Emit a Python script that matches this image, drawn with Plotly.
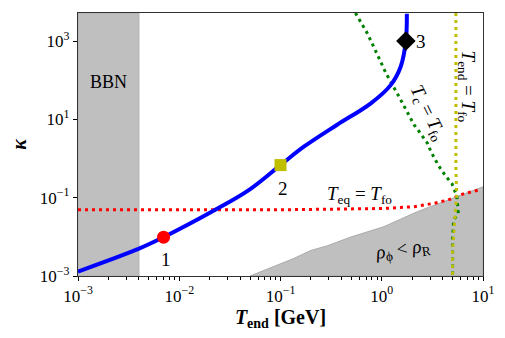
# kappa vs T_end parameter space

import numpy as np
import plotly.graph_objects as go

# blue trajectory
blue_x = [1e-3, 0.004, 0.0070, 0.0227, 0.049, 0.100, 0.17, 0.36, 0.78, 1.23, 1.54, 1.73, 1.77]
blue_y = [0.0013, 0.0050, 0.0098, 0.049, 0.158, 0.68, 2.0, 7.2, 25.7, 76, 224, 1000, 5000]

# benchmark points 1, 2, 3
pts_x = [0.0070, 0.100, 1.73]
pts_y = [0.0098, 0.68, 1000]

# T_eq = T_fo (red dotted)
red_x = [1e-3, 0.01, 0.1, 1.05, 2.1, 3.3, 4.5, 6.3, 9.2]
red_y = [0.049, 0.049, 0.049, 0.053, 0.059, 0.072, 0.087, 0.123, 0.158]

# T_c = T_fo (green dotted)
green_x = [0.55, 0.72, 0.91, 1.10, 1.48, 2.09, 2.34, 2.83, 3.06, 3.61, 4.30, 4.93, 5.53, 5.70, 5.13, 5.01, 5.01]
green_y = [5200, 1580, 437, 151, 38, 7.2, 4.9, 2.45, 1.5, 0.68, 0.35, 0.23, 0.107, 0.040, 0.027, 0.010, 0.001]

# T_end = T_fo (yellow dotted)
yellow_x = [5.4, 5.4, 5.5, 5.4, 5.2, 5.0, 5.0]
yellow_y = [5200, 0.5, 0.12, 0.05, 0.018, 0.0045, 0.001]

# rho_phi < rho_R boundary (grey)
rho_x = [0.050, 0.108, 0.135, 0.20, 0.29, 0.49, 1.05, 2.25, 4.82, 10.0]
rho_y = [0.001, 0.0023, 0.0028, 0.0045, 0.0059, 0.0098, 0.0182, 0.044, 0.095, 0.19]

# BBN excluded
bbn_x = [1e-3, 0.004]

y_ticks = [1e-3, 1e-1, 1e1, 1e3]
y_ticktext = ["10<sup>−3</sup>", "10<sup>−1</sup>", "10<sup>1</sup>", "10<sup>3</sup>"]
x_ticks = [1e-3, 1e-2, 1e-1, 1e0, 1e1]
x_ticktext = ["10<sup>−3</sup>", "10<sup>−2</sup>", "10<sup>−1</sup>", "10<sup>0</sup>", "10<sup>1</sup>"]
x_minor = [m * d for d in [1e-3, 1e-2, 1e-1, 1e0] for m in range(2, 10)]

YTOP = 5200
grey = "#bfbfbf"
FONT = "Liberation Serif"

fig = go.Figure()

fig.add_trace(go.Scatter(x=[bbn_x[0], bbn_x[1], bbn_x[1], bbn_x[0], bbn_x[0]],
                         y=[1e-3, 1e-3, YTOP, YTOP, 1e-3],
                         fill="toself", fillcolor=grey, mode="lines",
                         line=dict(color="#b0b0b0", width=1), hoverinfo="skip"))

fig.add_trace(go.Scatter(x=rho_x + [10.0, rho_x[0]], y=rho_y + [1e-3, 1e-3],
                         fill="toself", fillcolor=grey, mode="lines",
                         line=dict(color="#aaaaaa", width=1), hoverinfo="skip"))

fig.add_trace(go.Scatter(x=red_x, y=red_y, mode="lines",
                         line=dict(color="red", width=3, dash="3px,4px")))
fig.add_trace(go.Scatter(x=green_x, y=green_y, mode="lines",
                         line=dict(color="green", width=3, dash="3px,4px")))
fig.add_trace(go.Scatter(x=yellow_x, y=yellow_y, mode="lines",
                         line=dict(color="#bfbf00", width=3, dash="3px,4px")))

fig.add_trace(go.Scatter(x=blue_x, y=blue_y, mode="lines", line_shape="spline",
                         line=dict(color="blue", width=4)))

fig.add_trace(go.Scatter(x=pts_x, y=pts_y, mode="markers",
                         marker=dict(symbol=["circle", "square", "diamond"],
                                     color=["red", "#bfbf00", "black"], opacity=1,
                                     size=[13, 12, 15], line=dict(width=0))))

def label(x, y, text, size=19, angle=0):
    fig.add_annotation(x=np.log10(x), y=np.log10(y), text=text, showarrow=False,
                       textangle=angle, font=dict(family=FONT, size=size, color="black"))

label(0.002, 91, "BBN", size=18)
label(0.0074, 0.0027, "1")
label(0.105, 0.174, "2")
label(2.43, 950, "3")
label(0.60, 0.118, "<i>T</i><sub>eq</sub> = <i>T</i><sub>fo</sub>")
label(1.6, 0.0045, "<i>ρ</i><sub>ϕ</sub> &lt; <i>ρ</i><sub>R</sub>", angle=-8)
label(2.83, 14.3, "<i>T</i><sub>c</sub> = <i>T</i><sub>fo</sub>", angle=64)
label(6.9, 70, "<i>T</i><sub>end</sub> = <i>T</i><sub>fo</sub>", angle=90)

# page body has an 8px margin, so the figure is drawn 8px in from the corner
fig.update_layout(
    width=497, height=330,
    margin=dict(l=70, r=22, t=5, b=62),
    plot_bgcolor="white", paper_bgcolor="white",
    showlegend=False,
    font=dict(family=FONT, size=17, color="black"),
)
fig.update_xaxes(type="log", range=[-3, 1], tickvals=x_ticks, ticktext=x_ticktext,
                 ticks="outside", ticklen=4, tickcolor="black",
                 minor=dict(tickvals=x_minor, ticks="outside", ticklen=2.5, tickcolor="black", showgrid=False),
                 showgrid=False, zeroline=False, showline=True, linecolor="#333", linewidth=1.3,
                 mirror=True, tickfont=dict(size=17),
                 title=dict(text="<b><i>T</i><sub>end</sub> [GeV]</b>", font=dict(size=20), standoff=4))
fig.update_yaxes(type="log", range=[-3, np.log10(YTOP)], tickvals=y_ticks, ticktext=y_ticktext,
                 ticks="outside", ticklen=4, tickcolor="black",
                 showgrid=False, zeroline=False, showline=True, linecolor="#333", linewidth=1.3,
                 mirror=True, tickfont=dict(size=17),
                 title=dict(text="<b><i>κ</i></b>", font=dict(size=20), standoff=8))

fig.write_html("out.html")
